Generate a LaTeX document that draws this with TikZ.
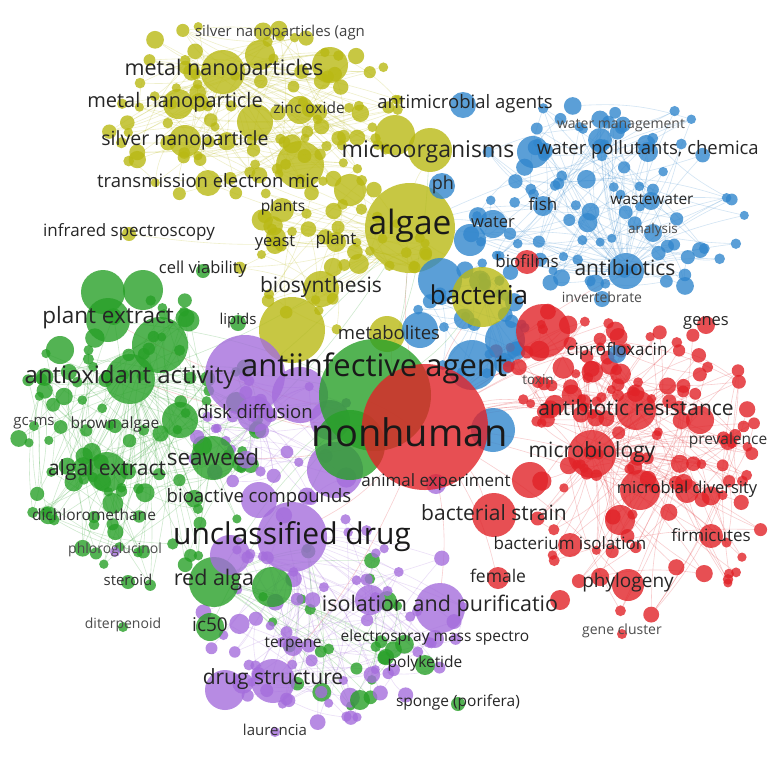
\documentclass[tikz,border=0pt]{standalone}
\usepackage{fontspec}
\setmainfont{Open Sans}

\pgfdeclarelayer{bg}
\pgfdeclarelayer{edges}
\pgfsetlayers{bg,edges,main}

\definecolor{vred}{RGB}{225,35,40}
\definecolor{vgreen}{RGB}{40,160,40}
\definecolor{vblue}{RGB}{50,135,205}
\definecolor{vyellow}{RGB}{185,185,20}
\definecolor{vpurple}{RGB}{165,110,220}

\tikzset{
  term/.style={circle, inner sep=0pt, outer sep=0pt, draw=none, fill opacity=0.8},
  edge/.style={line width=0.6pt, draw opacity=0.22},
  lbl/.style={inner sep=0pt, text=black!85},
}

\begin{document}
\begin{tikzpicture}[x=1pt, y=-1pt]
  \begin{pgfonlayer}{bg}
    \fill[white] (0,0) rectangle (782,756);
  \end{pgfonlayer}
  \useasboundingbox (0,0) rectangle (782,756);

  % small terms, scattered per cluster
  \pgfmathsetseed{42}
  \foreach \cl/\cx/\cy/\rx/\ry/\col/\num in {
    ya/250/110/150/95/vyellow/100,
    yb/335/250/100/80/vyellow/45,
    ba/605/205/140/110/vblue/85,
    bb/475/320/60/60/vblue/30,
    ra/650/470/125/145/vred/110,
    rb/565/360/70/55/vred/30,
    ga/140/440/125/150/vgreen/105,
    gb/340/620/90/90/vgreen/25,
    pa/330/615/135/110/vpurple/70,
    pb/275/440/85/70/vpurple/30}{
    \foreach \i in {1,...,\num}{
      \pgfmathsetmacro\ang{360*rnd}
      \pgfmathsetmacro\dd{sqrt(rnd)}
      \pgfmathsetmacro\rr{4.5+7*rnd*rnd}
      \node[term, fill=\col, minimum size=\rr*2pt] (\cl-\i)
        at ({\cx+\rx*\dd*cos(\ang)},{\cy+\ry*\dd*sin(\ang)}) {};
    };
  };

  % larger terms
  \foreach \nm/\px/\py/\rr/\col in {
    y1/292/330/33/vyellow, y2/300/165/24/vyellow, y3/260/55/15/vyellow,
    y4/330/65/18/vyellow, y5/395/135/20/vyellow, y6/255/122/18/vyellow,
    y7/350/190/16/vyellow, y8/300/110/14/vyellow,
    agn/280/36/5/vyellow, metnps/223/72/22/vyellow, metnp/178/104/15/vyellow,
    zinc/309/110/7/vyellow, silvnp/185/141/16/vyellow, tem/208/183/13/vyellow,
    plants/282/210/12/vyellow, irs/129/234/7/vyellow, algae/410/228/45/vyellow,
    yeast/275/245/9/vyellow, plant/336/242/10/vyellow, biosyn/321/289/18/vyellow,
    metab/387/334/18/vyellow, microorg/430/150/22/vyellow,
    b1/533/152/16/vblue, b2/440/280/22/vblue, b3/420/330/18/vblue,
    b4/472/365/25/vblue, b5/505/340/20/vblue, b6/493/430/22/vblue,
    b7/600/140/12/vblue, b8/470/240/16/vblue, b9/700/250/8/vblue,
    antimic/463/105/13/vblue, watman/621/128/6/vblue, watpol/648/152/10/vblue,
    ph/442/186/13/vblue, fish/543/206/10/vblue, wastew/651/201/9/vblue,
    water/493/224/14/vblue, analysis/653/233/9/vblue, antibio/626/271/18/vblue,
    invert/602/299/8/vblue, cipro/617/354/9/vblue,
    bacteria/482/297/30/vyellow,
    r1/543/331/27/vred, r2/640/490/20/vred, r3/530/480/18/vred,
    r4/620/520/15/vred, r5/700/420/14/vred, r6/560/600/10/vred,
    biofilms/527/262/12/vred, toxin/538/382/6/vred, genes/706/325/9/vred,
    antres/636/410/20/vred, prev/728/442/8/vred, microbio/592/454/24/vred,
    micdiv/687/491/12/vred, bacstrain/494/515/22/vred, bactiso/570/545/12/vred,
    firmi/711/536/12/vred, female/498/578/11/vred, phylog/628/585/16/vred,
    genecl/622/634/5/vred,
    g2/103/292/22/vgreen, g3/160/345/28/vgreen, g4/143/290/20/vgreen,
    g5/60/350/14/vgreen, g6/180/420/18/vgreen, g7/272/587/20/vgreen,
    g8/360/700/10/vgreen,
    cellv/203/271/7/vgreen, lipids/238/323/8/vgreen, plantext/108/320/22/vgreen,
    antiox/130/379/25/vgreen, gcms/34/426/5/vgreen, brown/115/426/7/vgreen,
    seaweed/213/458/22/vgreen, algalext/107/472/20/vgreen, dichlo/94/517/6/vgreen,
    steroid/128/582/7/vgreen, redalga/214/582/25/vgreen, diterp/123/627/5/vgreen,
    ic50/210/627/14/vgreen, polyket/425/665/10/vgreen, sponge/458/704/7/vgreen,
    p1/245/375/40/vpurple, p2/300/395/28/vpurple, p3/335/470/28/vpurple,
    p4/230/555/20/vpurple, p5/370/600/15/vpurple, p6/330/420/20/vpurple,
    p7/225/690/20/vpurple,
    animexp/436/484/10/vpurple, phloro/115/552/5/vpurple, diskdiff/255/414/18/vpurple,
    bioact/259/500/18/vpurple, unclass/292/537/35/vpurple, isopur/440/608/25/vpurple,
    electro/435/639/9/vpurple, terpene/293/646/10/vpurple, drugstr/273/681/22/vpurple,
    laurencia/275/732/5/vpurple,
    g1/350/445/35/vgreen, antiinf/375/395/56/vgreen,
    nonhuman/425/427/63/vred}{
    \node[term, fill=\col, minimum size=\rr*2pt] (\nm) at (\px,\py) {};
  };

  % links
  \begin{pgfonlayer}{edges}
    \foreach \cl/\col/\num/\hub in {
      ya/vyellow/100/metnps, yb/vyellow/45/algae, ba/vblue/85/antibio,
      bb/vblue/30/bacteria, ra/vred/110/microbio, rb/vred/30/nonhuman,
      ga/vgreen/105/antiox, gb/vgreen/25/redalga, pa/vpurple/70/unclass,
      pb/vpurple/30/diskdiff}{
      \foreach \i in {1,...,\num}{
        \pgfmathrandominteger{\j}{1}{\num}
        \draw[edge, draw=\col] (\cl-\i) to[bend left=10] (\cl-\j);
      };
      \foreach \i in {2,4,...,\num}{
        \draw[edge, draw=\col] (\cl-\i) to[bend right=8] (\hub);
      };
    };
    \foreach \a/\col in {antiinf/vred, unclass/vred, algae/vred, bacteria/vred,
      antres/vred, bacstrain/vred, isopur/vred, seaweed/vred, antiox/vred,
      plantext/vred, drugstr/vred, antibio/vred, phylog/vred, metab/vred,
      diskdiff/vred, micdiv/vred, firmi/vred, female/vred}{
      \draw[edge, draw=\col] (nonhuman) to[bend left=8] (\a);
    };
    \foreach \a/\col in {algae/vgreen, bacteria/vgreen, unclass/vgreen,
      antiox/vgreen, plantext/vgreen, seaweed/vgreen, redalga/vgreen,
      microorg/vgreen, bioact/vgreen, algalext/vgreen, ic50/vgreen}{
      \draw[edge, draw=\col] (antiinf) to[bend right=8] (\a);
    };
    \foreach \a/\col in {metnps/vyellow, silvnp/vyellow, tem/vyellow,
      microorg/vyellow, biosyn/vyellow, plants/vyellow, water/vblue, ph/vblue,
      antibio/vblue, seaweed/vgreen, algalext/vgreen, antiox/vgreen,
      metnp/vyellow, irs/vyellow, watpol/vblue, fish/vblue}{
      \draw[edge, draw=\col] (algae) to[bend left=8] (\a);
    };
  \end{pgfonlayer}

  % labels
  \foreach \nm/\px/\py/\sz/\tk/\txt in {
    agn/280/33/15/75/silver nanoparticles (agn,
    metnps/224/70/21.5/85/metal nanoparticles,
    metnp/175/102/20/85/metal nanoparticle,
    zinc/309/108/15.5/80/zinc oxide,
    antimic/465/104/18.5/85/antimicrobial agents,
    watman/621/126/14/70/water management,
    silvnp/185/140/19.5/85/silver nanoparticle,
    microorg/428/152/23/85/microorganisms,
    watpol/648/150/18.5/85/{water pollutants, chemica},
    tem/208/181/18.5/85/transmission electron mic,
    ph/443/185/18/85/ph,
    fish/543/204/17/85/fish,
    wastew/652/199/15.5/85/wastewater,
    plants/283/207/15.5/85/plants,
    water/493/222/16.5/85/water,
    analysis/653/230/13.5/70/analysis,
    irs/129/232/17/85/infrared spectroscopy,
    algae/410/226/33.5/90/algae,
    yeast/275/243/16.5/85/yeast,
    plant/336/240/17/85/plant,
    biofilms/527/261/17/85/biofilms,
    antibio/625/268/21/85/antibiotics,
    cellv/203/269/16.5/85/cell viability,
    invert/602/297/14/70/invertebrate,
    biosyn/321/287/21/85/biosynthesis,
    bacteria/479/295/26/90/bacteria,
    plantext/108/318/22.5/85/plant extract,
    lipids/238/321/15/85/lipids,
    metab/389/333/18.5/85/metabolites,
    genes/706/323/16.5/85/genes,
    cipro/617/351/17/85/ciprofloxacin,
    antiox/130/377/24/85/antioxidant activity,
    antiinf/374/368/31/90/antiinfective agent,
    toxin/538/380/13.5/70/toxin,
    diskdiff/255/412/18.5/85/disk diffusion,
    antres/636/408/21/85/antibiotic resistance,
    nonhuman/410/432/38/90/nonhuman,
    gcms/34/423/15/75/gc-ms,
    brown/115/424/15.5/80/brown algae,
    prev/728/440/15.5/80/prevalence,
    microbio/592/452/21/85/microbiology,
    seaweed/213/457/22.5/85/seaweed,
    algalext/107/470/21/85/algal extract,
    animexp/436/482/17/85/animal experiment,
    bioact/259/498/18.5/85/bioactive compounds,
    micdiv/687/489/16.5/85/microbial diversity,
    bacstrain/494/513/21/85/bacterial strain,
    dichlo/94/515/15.5/80/dichloromethane,
    unclass/292/537/30/90/unclassified drug,
    bactiso/570/543/17/85/bacterium isolation,
    firmi/711/535/17/85/firmicutes,
    phloro/115/550/14/70/phloroglucinol,
    steroid/128/580/15/80/steroid,
    redalga/214/580/21.5/85/red alga,
    female/498/576/17.5/85/female,
    phylog/628/583/19/85/phylogeny,
    isopur/440/606/21.5/85/isolation and purificatio,
    diterp/123/625/14/70/diterpenoid,
    ic50/210/625/19/85/ic50,
    electro/435/637/15.5/85/electrospray mass spectro,
    genecl/622/631/14/70/gene cluster,
    terpene/293/644/15.5/85/terpene,
    polyket/425/663/15.5/85/polyketide,
    drugstr/273/679/21/85/drug structure,
    sponge/458/702/15.5/85/sponge (porifera),
    laurencia/275/730/15/80/laurencia}{
    \node[lbl, text=black!\tk, font=\fontsize{\sz}{\sz}\selectfont] (t-\nm) at (\px,\py) {\txt};
  };
\end{tikzpicture}
\end{document}
